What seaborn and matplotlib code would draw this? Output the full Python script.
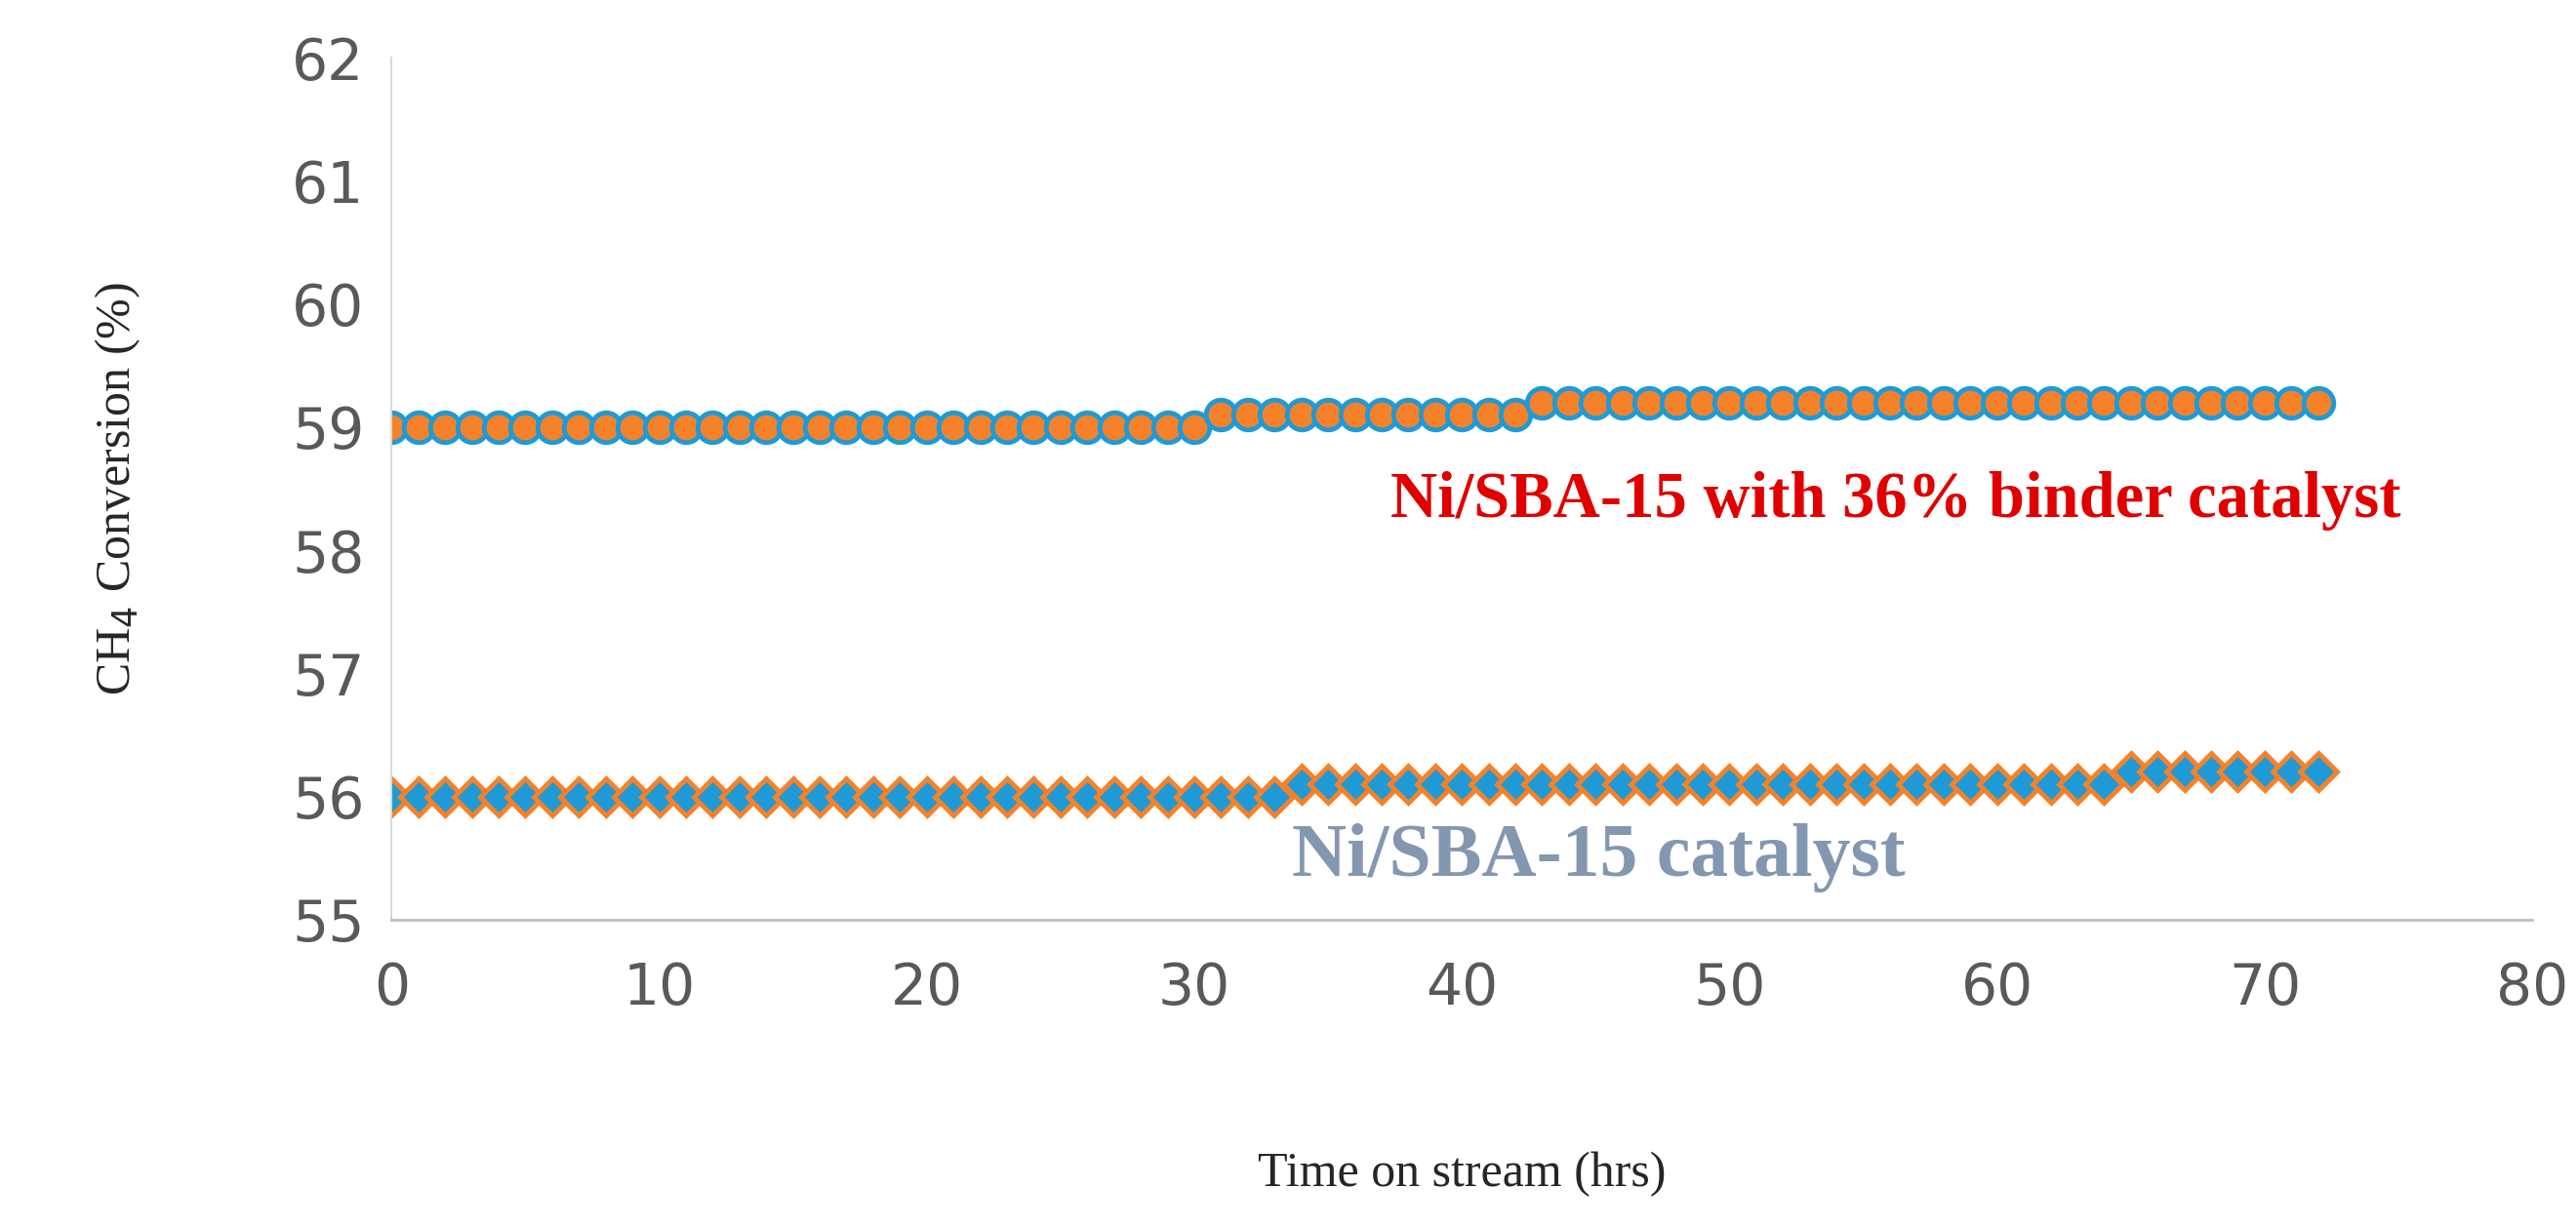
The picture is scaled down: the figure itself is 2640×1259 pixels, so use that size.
import matplotlib
matplotlib.use("Agg")
import matplotlib.pyplot as plt
import seaborn as sns
import numpy as np

# hours on stream, one reading per hour
hours = list(range(0, 73))
# Ni/SBA-15 with 36% binder catalyst
binder_conv = [59.0] * 31 + [59.1] * 12 + [59.2] * 30
# Ni/SBA-15 catalyst
plain_conv = [56.0] * 34 + [56.1] * 31 + [56.2] * 8

x_ticks = [0, 10, 20, 30, 40, 50, 60, 70, 80]
y_ticks = [55, 56, 57, 58, 59, 60, 61, 62]

blue = "#1F9AD6"
orange = "#F5822A"

sns.set_style("white")
fig = plt.figure(figsize=(26.4, 12.59), dpi=100)
ax = fig.add_axes([0.152, 0.251, 0.831, 0.702])

sns.lineplot(x=hours, y=binder_conv, ax=ax, color=blue, linewidth=5,
             marker="o", markersize=22, markerfacecolor=orange,
             markeredgecolor=blue, markeredgewidth=3.5)
sns.lineplot(x=hours, y=plain_conv, ax=ax, color=orange, linewidth=5,
             marker="D", markersize=19, markerfacecolor=blue,
             markeredgecolor=orange, markeredgewidth=3.5)

ax.set_xlim(0, 80)
ax.set_ylim(55, 62)
ax.set_xticks(x_ticks)
ax.set_yticks(y_ticks)
ax.tick_params(axis="both", labelsize=42, labelcolor="#595959", length=0, pad=20)
ax.tick_params(axis="x", pad=30)

for side in ["top", "right"]:
    ax.spines[side].set_visible(False)
ax.spines["left"].set_color("#D9D9D9")
ax.spines["bottom"].set_color("#BFBFBF")
ax.spines["left"].set_linewidth(1.5)
ax.spines["bottom"].set_linewidth(2)

ax.set_xlabel("Time on stream (hrs)", family="Liberation Serif", fontsize=36, labelpad=100)
ax.set_ylabel("CH$_4$ Conversion (%)", family="Liberation Serif", fontsize=36, labelpad=110)

ax.text(56.2, 58.4, "Ni/SBA-15 with 36% binder catalyst", family="Liberation Serif",
        fontsize=48, fontweight="bold", color="#E00000", ha="center", va="center")
ax.text(45.1, 55.5, "Ni/SBA-15 catalyst", family="Liberation Serif",
        fontsize=56, fontweight="bold", color="#8497B0", ha="center", va="center")

fig.savefig("out.png", dpi=100)
